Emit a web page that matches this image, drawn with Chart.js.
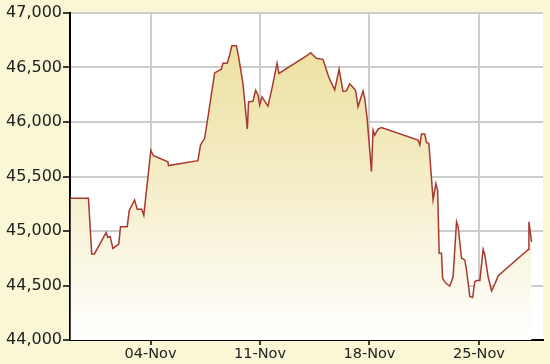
<!DOCTYPE html>
<html>
<head>
<meta charset="utf-8">
<script src="https://cdn.jsdelivr.net/npm/chart.js@4/dist/chart.umd.min.js"></script>
<style>
  body { margin: 0; background: #faf7d6; }
  #wrap { width: 550px; height: 364px; }
</style>
</head>
<body>
<div id="wrap"><canvas id="priceChart" width="550" height="364"></canvas></div>
<script>
// days counted from 04-Nov (0 = 04-Nov)
const dayPos = [
  -5.12, -3.97, -3.76, -3.59, -2.84, -2.73, -2.58, -2.41, -2.03, -1.92,
  -1.49, -1.36, -1.02, -0.85, -0.56, -0.43, 0.02, 0.19, 1.11, 1.15,
  3.03, 3.20, 3.46, 3.71, 4.10, 4.53, 4.63, 4.91, 5.06, 5.20,
  5.49, 5.63, 5.91, 6.19, 6.27, 6.55, 6.72, 6.87, 6.98, 7.13,
  7.51, 7.79, 8.09, 8.21, 10.07, 10.24, 10.61, 11.03, 11.40, 11.78,
  12.06, 12.31, 12.53, 12.74, 13.00, 13.12, 13.27, 13.59, 13.70, 13.85,
  14.13, 14.23, 14.34, 14.55, 14.77, 17.11, 17.22, 17.33, 17.54, 17.65,
  17.80, 18.07, 18.25, 18.36, 18.46, 18.61, 18.68, 18.89, 19.14, 19.35,
  19.57, 19.67, 19.89, 20.10, 20.21, 20.42, 20.60, 20.74, 20.85, 21.06,
  21.27, 21.38, 21.59, 21.81, 22.02, 22.24, 24.16, 24.20, 24.37
];
const prices = [
  45300, 45300, 44790, 44790, 44985, 44940, 44950, 44840, 44880, 45040,
  45040, 45190, 45285, 45200, 45200, 45145, 45740, 45690, 45635, 45600,
  45645, 45790, 45850, 46080, 46450, 46485, 46540, 46540, 46615, 46700,
  46700, 46600, 46355, 45935, 46185, 46190, 46290, 46250, 46155, 46230,
  46145, 46325, 46540, 46445, 46615, 46635, 46585, 46575, 46410, 46295,
  46485, 46280, 46285, 46350, 46310, 46285, 46140, 46285, 46215, 46035,
  45545, 45925, 45880, 45935, 45950, 45835, 45790, 45890, 45890, 45810,
  45805, 45285, 45435, 45375, 44795, 44795, 44565, 44520, 44495, 44580,
  45085, 45040, 44750, 44735, 44640, 44400, 44390, 44535, 44545, 44545,
  44830, 44780, 44580, 44450, 44515, 44590, 44830, 45085, 44900
];
const tickDays = [0, 7, 14, 21];
const tickLabels = ['04-Nov', '11-Nov', '18-Nov', '25-Nov'];

// white plot background
const plotBg = {
  id: 'plotBg',
  beforeDraw(chart) {
    const a = chart.chartArea;
    const ctx = chart.ctx;
    ctx.save();
    ctx.fillStyle = '#ffffff';
    ctx.fillRect(a.left, a.top, a.right - a.left, a.bottom - a.top);
    ctx.restore();
  }
};

function areaFill(context) {
  const a = context.chart.chartArea;
  if (!a) return 'rgba(0,0,0,0)';
  const g = context.chart.ctx.createLinearGradient(0, a.top, 0, a.bottom);
  g.addColorStop(0, '#ebdd98');
  g.addColorStop(0.5, '#f4edc6');
  g.addColorStop(1, '#ffffff');
  return g;
}

const ctx = document.getElementById('priceChart').getContext('2d');
const chart = new Chart(ctx, {
  type: 'line',
  data: {
    datasets: [{
      data: dayPos.map((d, i) => ({ x: d, y: prices[i] })),
      borderColor: '#a8392f',
      borderWidth: 1.5,
      backgroundColor: areaFill,
      fill: 'start',
      pointRadius: 0,
      tension: 0
    }]
  },
  options: {
    responsive: false,
    animation: false,
    layout: { padding: { top: 13, right: 7, left: 0, bottom: 0 } },
    plugins: { legend: { display: false }, tooltip: { enabled: false } },
    scales: {
      x: {
        type: 'linear',
        min: -5.15,
        max: 25.1,
        afterBuildTicks: (scale) => { scale.ticks = tickDays.map(v => ({ value: v })); },
        afterFit: (scale) => { scale.height = 24; },
        grid: { color: '#cdcdcd', lineWidth: 2, tickColor: '#000', tickLength: 5, tickWidth: 1.5 },
        border: { color: '#000', width: 2 },
        ticks: {
          autoSkip: false,
          maxRotation: 0,
          padding: 1,
          color: '#222',
          font: { family: 'DejaVu Sans', size: 14.5 },
          callback: (v) => tickLabels[tickDays.indexOf(v)]
        }
      },
      y: {
        min: 44000,
        max: 47000,
        afterFit: (scale) => { scale.width = 70; },
        grid: { color: '#cdcdcd', lineWidth: 2, tickColor: '#000', tickLength: 7, tickWidth: 1.5 },
        border: { color: '#000', width: 2 },
        ticks: {
          stepSize: 500,
          padding: 1,
          color: '#222',
          font: { family: 'DejaVu Sans', size: 16 },
          callback: (v) => v.toLocaleString('en-US')
        }
      }
    }
  },
  plugins: [plotBg]
});
</script>
</body>
</html>
